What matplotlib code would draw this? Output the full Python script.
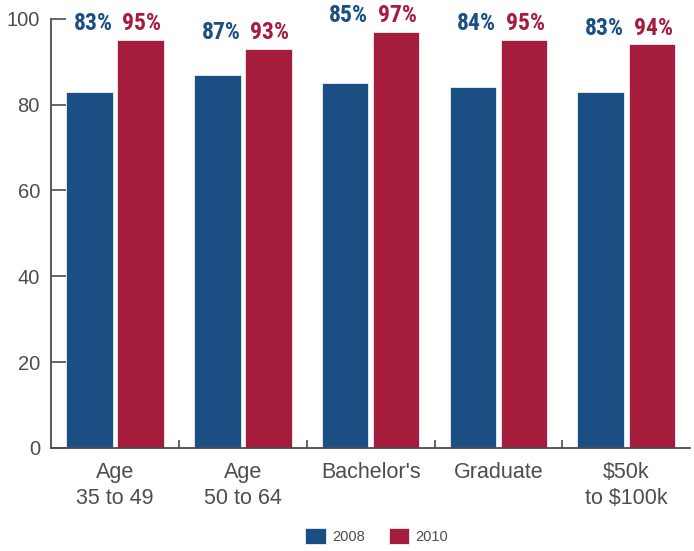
import matplotlib
matplotlib.use("Agg")
import matplotlib.pyplot as plt
import numpy as np

plt.rcParams.update({"font.family": ["Liberation Sans", "DejaVu Sans"]})

BLUE, RED, AXIS, TEXT = "#1b4e82", "#a61c3d", "#4b4a5a", "#4d4d4d"
NARROW = ["Roboto Condensed", "Liberation Sans Narrow", "Roboto", "DejaVu Sans"]

categories = ["Age\n35 to 49", "Age\n50 to 64", "Bachelor's", "Graduate",
              "\\$50k\nto \\$100k"]
share_2008 = [83, 87, 85, 84, 83]
share_2010 = [95, 93, 97, 95, 94]
years = ["2008", "2010"]
yticks = [0, 20, 40, 60, 80, 100]

fig = plt.figure(figsize=(6.94, 5.51), dpi=100)
ax = fig.add_axes([0.0735, 0.187, 0.921, 0.779])

x = np.arange(len(categories))
w, off = 0.365, 0.2
ax.bar(x - off, share_2008, w, color=BLUE, edgecolor="white", lw=0.5, label=years[0])
ax.bar(x + off, share_2010, w, color=RED, edgecolor="white", lw=0.5, label=years[1])

# value labels sit together just above the taller bar
for i, (a, b) in enumerate(zip(share_2008, share_2010)):
    y = max(a, b) + 2.3
    ax.text(x[i] - off + 0.03, y, f"{a}%", color=BLUE, fontsize=17,
            fontweight="bold", family=NARROW, fontstretch="condensed",
            ha="center", va="baseline")
    ax.text(x[i] + off + 0.01, y, f"{b}%", color=RED, fontsize=17,
            fontweight="bold", family=NARROW, fontstretch="condensed",
            ha="center", va="baseline")

ax.set_xlim(-0.5, len(categories) - 0.5)
ax.set_ylim(0, 100)
ax.set_yticks(yticks)
ax.set_xticks(x)
ax.set_xticklabels(categories, fontsize=15.5, color=TEXT, linespacing=1.3)
ax.set_xticks(x[:-1] + 0.5, minor=True)
ax.tick_params(axis="x", which="major", length=0, pad=10)
ax.tick_params(axis="x", which="minor", direction="in", length=6, width=1.2, color=AXIS)
ax.tick_params(axis="y", direction="in", length=10.5, width=1.2, color=AXIS,
               labelsize=14.5, labelcolor=TEXT, pad=8)

for s in ("top", "right"):
    ax.spines[s].set_visible(False)
for s in ("left", "bottom"):
    ax.spines[s].set_color(AXIS)
    ax.spines[s].set_linewidth(1.3)

fig.legend(loc="lower center", bbox_to_anchor=(0.543, -0.012), ncol=2, frameon=False,
           fontsize=10.5, handlelength=1.4, handleheight=1.4, handletextpad=0.45,
           columnspacing=1.6, labelcolor=TEXT)

fig.savefig("out.png", dpi=100)
